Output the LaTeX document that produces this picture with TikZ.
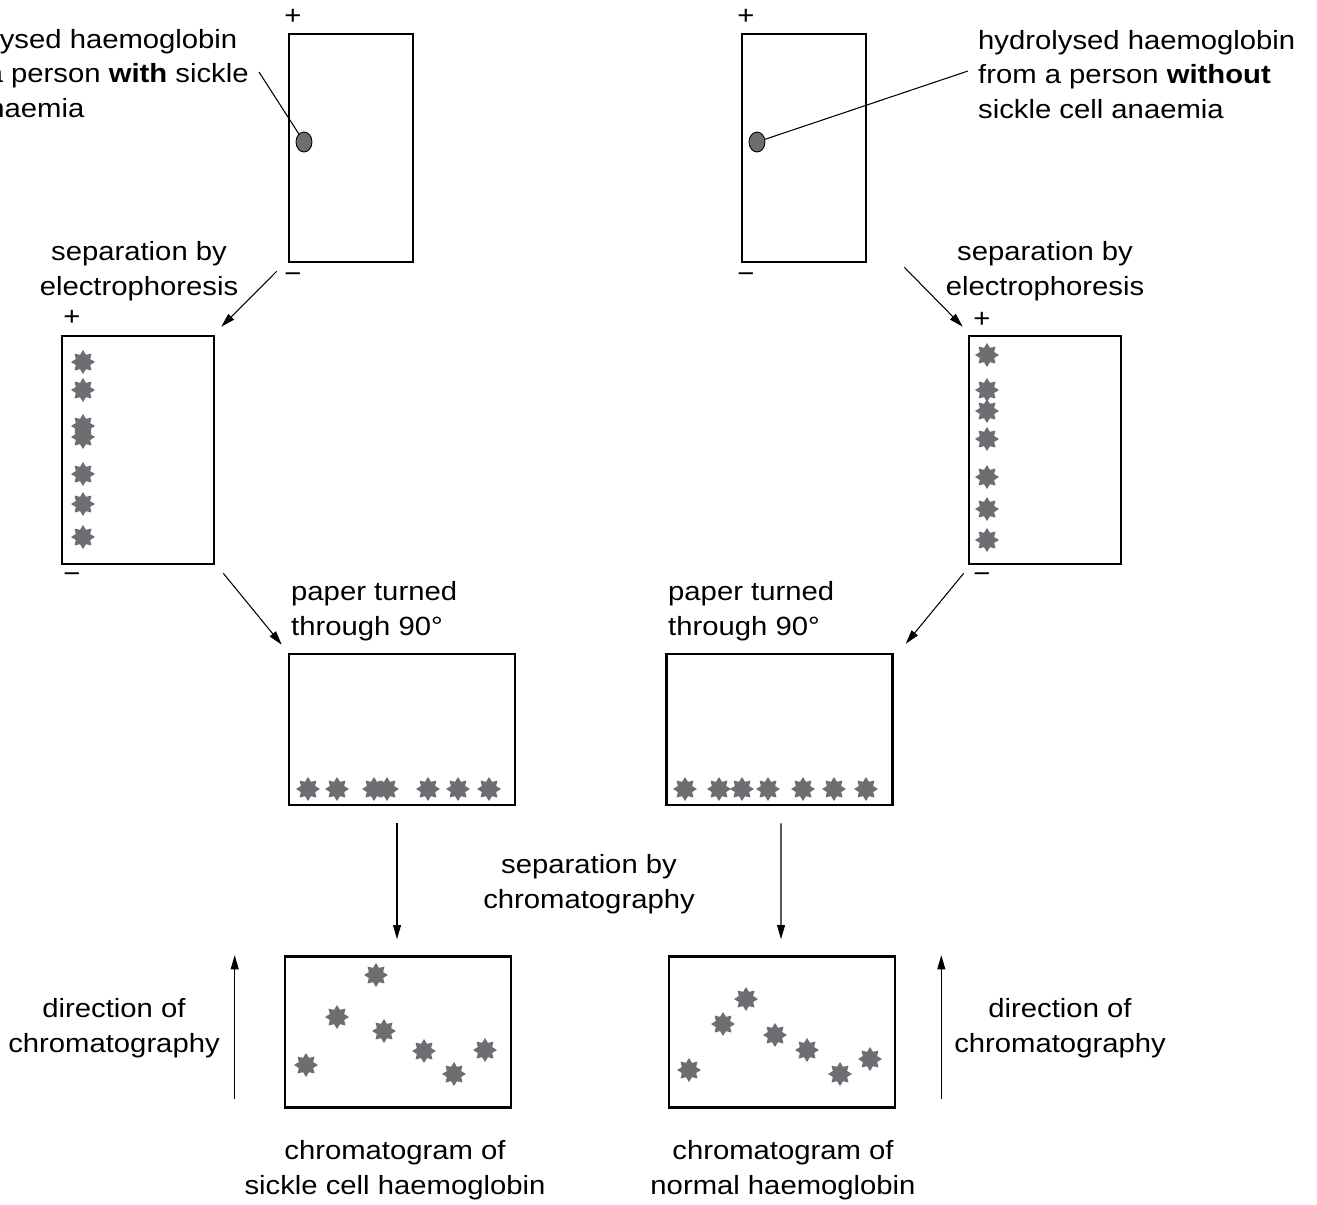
\documentclass[tikz,border=0pt]{standalone}
\usepackage{fontspec}
\setmainfont{Liberation Sans}[FakeStretch=1.11]
\usepackage{tikz}
\usetikzlibrary{arrows.meta}
\usetikzlibrary{shapes.geometric}
\usetikzlibrary{calc}
\definecolor{spotgrey}{HTML}{6D6E71}

\begin{document}
\begin{tikzpicture}[x={(0.02cm,0)},y={(0,-0.02cm)},font=\fontsize{15pt}{19.5pt}\selectfont,
	paper/.style={draw,line width=1.5pt,inner sep=0pt},
	tall/.style={paper,minimum width=2.48cm,minimum height=4.56cm},
	wide/.style={paper,minimum width=4.52cm,minimum height=3.02cm},
	hbstar/.style={star,star points=8,star point ratio=1.55,minimum size=0.48cm,inner sep=0pt,fill=spotgrey},
	spot/.style={ellipse,draw,line width=0.5pt,fill=spotgrey,minimum width=0.32cm,minimum height=0.4cm,inner sep=0pt},
	sign/.style={inner sep=0pt},
	flow/.style={line width=0.6pt,-{Triangle[length=8pt,width=4.5pt]}},
	leader/.style={line width=0.6pt}]
	
	\clip (0,0) rectangle (1317,1204);
	
	% papers
	\node[tall] (boxA) at (351,148) {};
	\node[tall] (boxB) at (804,148) {};
	\node[paper,minimum width=3.04cm,minimum height=4.56cm] (boxC) at (138,450) {};
	\node[paper,minimum width=3.04cm,minimum height=4.56cm] (boxD) at (1045,450) {};
	\node[wide] (boxE) at (402,729.5) {};
	\node[wide] (boxF) at (779.5,729.5) {};
	\node[wide] (boxG) at (398,1032) {};
	\node[wide] (boxH) at (782,1032) {};
	
	% electrodes
	\node[sign] (plusA) at (293,17) {+};
	\node[sign] (minusA) at (293,278) {−};
	\node[sign] (plusB) at (746,17) {+};
	\node[sign] (minusB) at (746,278) {−};
	\node[sign] (plusC) at (72,318) {+};
	\node[sign] (minusC) at (72,578) {−};
	\node[sign] (plusD) at (982,320) {+};
	\node[sign] (minusD) at (982,578) {−};
	
	% samples
	\node[spot] (spotA) at (304,142) {};
	\node[spot] (spotB) at (757,142) {};
	
	\node[anchor=base west,align=left] (lblwith) at (-86,117) {hydrolysed haemoglobin\\from a person \textbf{with} sickle\\cell anaemia};
	\node[anchor=base west,align=left] (lblwithout) at (972,118) {hydrolysed haemoglobin\\from a person \textbf{without}\\sickle cell anaemia};
	\coordinate (endwith) at (259,72);
	\coordinate (endwithout) at (968,71);
	\draw[leader] (endwith) -- (spotA);
	\draw[leader] (endwithout) -- (spotB);
	
	% spots after electrophoresis
	\foreach \y [count=\i] in {362,390,426,437,474,504,537}
		\node[hbstar] (sc\i) at (83,\y) {};
	\foreach \y [count=\i] in {355,390,411,439,477,509,540}
		\node[hbstar] (sd\i) at (987,\y) {};
	\foreach \x [count=\i] in {308,337,374,387,428,458,489}
		\node[hbstar] (se\i) at (\x,789) {};
	\foreach \x [count=\i] in {685,719,742,768,803,834,866}
		\node[hbstar] (sf\i) at (\x,789) {};
	
	% chromatograms
	\foreach \x/\y [count=\i] in {306/1065,337/1017,376/975,384/1031,424/1051,454/1074,485/1050}
		\node[hbstar] (sg\i) at (\x,\y) {};
	\foreach \x/\y [count=\i] in {689/1070,723/1024,746/999,775/1035,807/1050,840/1074,870/1059}
		\node[hbstar] (sh\i) at (\x,\y) {};
	
	% labels
	\node[anchor=base,align=center] (sepL) at (139,295) {separation by\\electrophoresis};
	\node[anchor=base,align=center] (sepR) at (1045,295) {separation by\\electrophoresis};
	\node[anchor=base west,align=left] (turnL) at (285,635) {paper turned\\through 90°};
	\node[anchor=base west,align=left] (turnR) at (662,635) {paper turned\\through 90°};
	\node[anchor=base,align=center] (sepM) at (589,908) {separation by\\chromatography};
	\node[anchor=base,align=center] (dirL) at (114,1052) {direction of\\chromatography};
	\node[anchor=base,align=center] (dirR) at (1060,1052) {direction of\\chromatography};
	\node[anchor=base,align=center] (resL) at (395,1194) {chromatogram of\\sickle cell haemoglobin};
	\node[anchor=base,align=center] (resR) at (783,1194) {chromatogram of\\normal haemoglobin};
	
	% arrows
	\draw[flow] ($(boxA.south west)+(-11,8)$) -- ($(boxC.north east)+(6,-8)$);
	\draw[flow] ($(boxB.south east)+(37,4)$) -- ($(boxD.north west)+(-5,-8)$);
	\draw[flow] ($(boxC.south east)+(8,8)$) -- ($(boxE.north west)+(-6,-8)$);
	\draw[flow] ($(boxD.south west)+(-4,8)$) -- ($(boxF.north east)+(12,-9)$);
	\draw[flow] ($(boxE.south)+(-5,17)$) -- ($(boxG.north)+(-1,-16)$);
	\draw[flow] ($(boxF.south)+(1.5,17)$) -- ($(boxH.north)+(-1,-16)$);
	\coordinate (dirLlow) at ($(boxG.south west)+(-49,-10)$);
	\coordinate (dirLhigh) at ($(boxG.north west)+(-49,0)$);
	\coordinate (dirRlow) at ($(boxH.south east)+(45,-10)$);
	\coordinate (dirRhigh) at ($(boxH.north east)+(45,0)$);
	\draw[flow] (dirLlow) -- (dirLhigh);
	\draw[flow] (dirRlow) -- (dirRhigh);
	
\end{tikzpicture}
\end{document}
